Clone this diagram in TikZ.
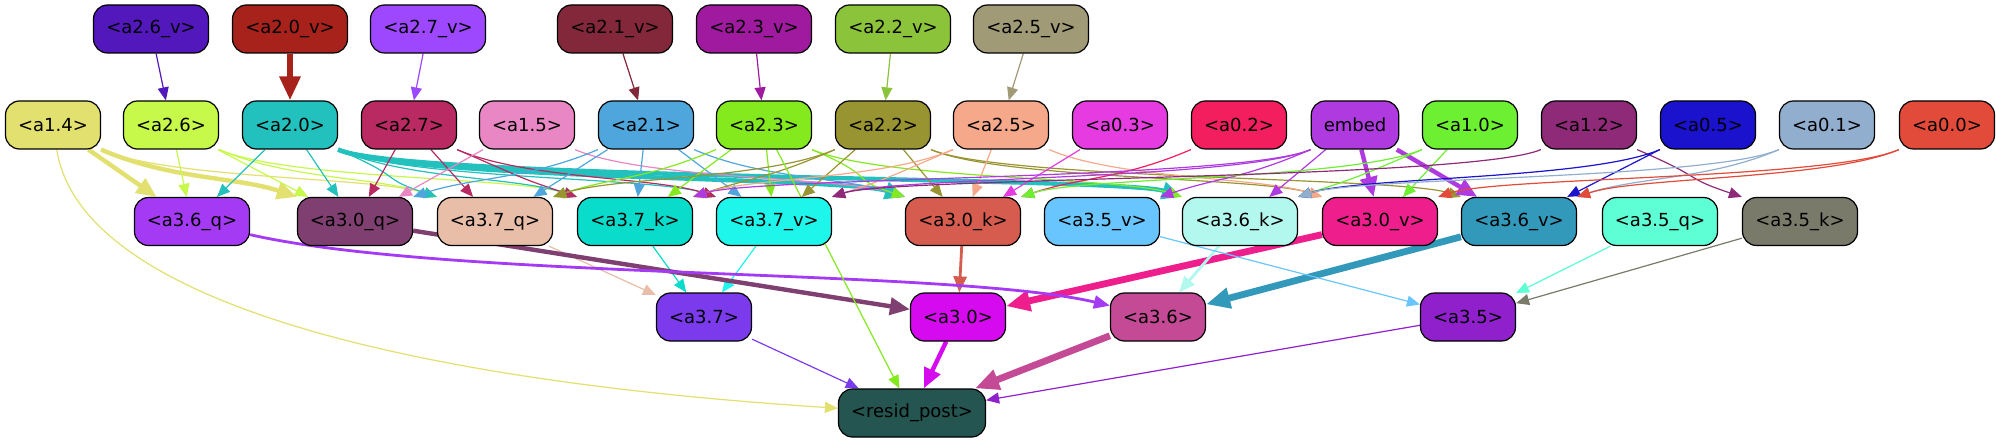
\documentclass[tikz,border=0pt]{standalone}
\usepackage{fontspec}
\setmainfont{DejaVu Sans}
\usetikzlibrary{arrows.meta,backgrounds}

\definecolor{c26v}{HTML}{5218BB}
\definecolor{c20v}{HTML}{A8221C}
\definecolor{c27v}{HTML}{9D48FF}
\definecolor{c21v}{HTML}{83283A}
\definecolor{c23v}{HTML}{A01AA0}
\definecolor{c22v}{HTML}{8BC33A}
\definecolor{c25v}{HTML}{A09A76}
\definecolor{c14}{HTML}{E2E06E}
\definecolor{c26}{HTML}{C7F94A}
\definecolor{c20}{HTML}{22C1BE}
\definecolor{c27}{HTML}{B82A61}
\definecolor{c15}{HTML}{E986C4}
\definecolor{c21}{HTML}{4EA6DC}
\definecolor{c23}{HTML}{84EA1E}
\definecolor{c22}{HTML}{999432}
\definecolor{c25}{HTML}{F5A98A}
\definecolor{c03}{HTML}{E63BE0}
\definecolor{c02}{HTML}{F31E5E}
\definecolor{cemb}{HTML}{AF3AE0}
\definecolor{c10}{HTML}{6EF032}
\definecolor{c12}{HTML}{8F2A78}
\definecolor{c05}{HTML}{1A12CC}
\definecolor{c01}{HTML}{92AECE}
\definecolor{c00}{HTML}{E24A3A}
\definecolor{c36q}{HTML}{A53AF4}
\definecolor{c30q}{HTML}{7F3F70}
\definecolor{c37q}{HTML}{E8BEA8}
\definecolor{c37k}{HTML}{0ADCCC}
\definecolor{c37v}{HTML}{1EF5EB}
\definecolor{c30k}{HTML}{D55C4E}
\definecolor{c35v}{HTML}{69C5FD}
\definecolor{c36k}{HTML}{B2F8EF}
\definecolor{c30v}{HTML}{EE1E8C}
\definecolor{c36v}{HTML}{3399BA}
\definecolor{c35q}{HTML}{5EFFD4}
\definecolor{c35k}{HTML}{7A7A6A}
\definecolor{c37}{HTML}{7B3AEC}
\definecolor{c30}{HTML}{D60AEE}
\definecolor{c36}{HTML}{C54A96}
\definecolor{c35}{HTML}{8F20CC}
\definecolor{cres}{HTML}{245550}

\tikzset{
  box/.style={draw=black, line width=0.6pt, rounded corners=7pt, minimum height=24pt,
    inner sep=0pt, font=\fontsize{9}{11}\selectfont},
  sbox/.style={box, minimum width=47.5pt},
  wbox/.style={box, minimum width=57.5pt},
  e1/.style={line width=0.6pt, -{Triangle[length=6.5pt,width=5.5pt]}},
  e2/.style={line width=1.4pt, -{Triangle[length=8pt,width=6.5pt]}},
  e3/.style={line width=2.2pt, -{Triangle[length=10pt,width=8.5pt]}},
  e4/.style={line width=3.4pt, -{Triangle[length=12pt,width=10pt]}},
  swr/.style={to path={.. controls +(70,30) and +(-60,-20) .. (\tikztotarget) \tikztonodes}},
  swl/.style={to path={.. controls +(-70,30) and +(60,-20) .. (\tikztotarget) \tikztonodes}},
}

\begin{document}
\begin{tikzpicture}[x=0.5pt,y=-0.5pt]
		\node[wbox, fill=c26v] (a26v) at (151,29) {<a2.6\_v>};
		\node[wbox, fill=c20v] (a20v) at (290,29) {<a2.0\_v>};
		\node[wbox, fill=c27v] (a27v) at (428,29) {<a2.7\_v>};
		\node[wbox, fill=c21v] (a21v) at (615,29) {<a2.1\_v>};
		\node[wbox, fill=c23v] (a23v) at (754,29) {<a2.3\_v>};
		\node[wbox, fill=c22v] (a22v) at (893,29) {<a2.2\_v>};
		\node[wbox, fill=c25v] (a25v) at (1031,29) {<a2.5\_v>};
		%
		\node[sbox, fill=c14] (a14) at (53,125) {<a1.4>};
		\node[sbox, fill=c26] (a26) at (171,125) {<a2.6>};
		\node[sbox, fill=c20] (a20) at (290,125) {<a2.0>};
		\node[sbox, fill=c27] (a27) at (409,125) {<a2.7>};
		\node[sbox, fill=c15] (a15) at (527,125) {<a1.5>};
		\node[sbox, fill=c21] (a21) at (646,125) {<a2.1>};
		\node[sbox, fill=c23] (a23) at (764,125) {<a2.3>};
		\node[sbox, fill=c22] (a22) at (883,125) {<a2.2>};
		\node[sbox, fill=c25] (a25) at (1001,125) {<a2.5>};
		\node[sbox, fill=c03] (a03) at (1120,125) {<a0.3>};
		\node[sbox, fill=c02] (a02) at (1239,125) {<a0.2>};
		\node[box, minimum width=43.75pt, fill=cemb] (embed) at (1355,125) {embed};
		\node[sbox, fill=c10] (a10) at (1470,125) {<a1.0>};
		\node[sbox, fill=c12] (a12) at (1589,125) {<a1.2>};
		\node[sbox, fill=c05] (a05) at (1708,125) {<a0.5>};
		\node[sbox, fill=c01] (a01) at (1827,125) {<a0.1>};
		\node[sbox, fill=c00] (a00) at (1947,125) {<a0.0>};
		%
		\node[wbox, fill=c36q] (a36q) at (192,221.5) {<a3.6\_q>};
		\node[wbox, fill=c30q] (a30q) at (355,221.5) {<a3.0\_q>};
		\node[wbox, fill=c37q] (a37q) at (495,221.5) {<a3.7\_q>};
		\node[wbox, fill=c37k] (a37k) at (635,221.5) {<a3.7\_k>};
		\node[wbox, fill=c37v] (a37v) at (774,221.5) {<a3.7\_v>};
		\node[wbox, fill=c30k] (a30k) at (963,221.5) {<a3.0\_k>};
		\node[wbox, fill=c35v] (a35v) at (1102,221.5) {<a3.5\_v>};
		\node[wbox, fill=c36k] (a36k) at (1240,221.5) {<a3.6\_k>};
		\node[wbox, fill=c30v] (a30v) at (1380,221.5) {<a3.0\_v>};
		\node[wbox, fill=c36v] (a36v) at (1519,221.5) {<a3.6\_v>};
		\node[wbox, fill=c35q] (a35q) at (1660,221.5) {<a3.5\_q>};
		\node[wbox, fill=c35k] (a35k) at (1800,221.5) {<a3.5\_k>};
		%
		\node[sbox, fill=c37] (a37) at (704,317) {<a3.7>};
		\node[sbox, fill=c30] (a30) at (958,317) {<a3.0>};
		\node[sbox, fill=c36] (a36) at (1158,317) {<a3.6>};
		\node[sbox, fill=c35] (a35) at (1468,317) {<a3.5>};
		%
		\node[box, minimum width=73.5pt, fill=cres] (resid) at (912,413) {<resid\_post>};
		%
		\begin{pgfonlayer}{background}
		\path[use as bounding box, fill=white] (0,0) rectangle (1996,443);
		%
		\path
		(a26v) edge[e1, c26v] (a26)
		(a20v) edge[e4, c20v] (a20)
		(a27v) edge[e1, c27v] (a27)
		(a21v) edge[e1, c21v] (a21)
		(a23v) edge[e1, c23v] (a23)
		(a22v) edge[e1, c22v] (a22)
		(a25v) edge[e1, c25v] (a25);
		%
		\path
		(a14) edge[e3, c14] (a36q)
		(a14.south east) edge[e3, c14, swr] (a30q.north west)
		(a14.south east) edge[e1, c14, swr] (a37q.north west)
		(a26) edge[e1, c26] (a36q)
		(a26) edge[e1, c26] (a30q)
		(a26.south east) edge[e1, c26, swr] (a37q.north west)
		(a26.south east) edge[e1, c26, swr] (a37k.north west)
		(a20) edge[e1, c20] (a36q)
		(a20) edge[e1, c20] (a30q)
		(a20.south east) edge[e1, c20, swr] (a37q.north west)
		(a20.south east) edge[e1, c20, swr] (a37k.north west)
		(a20.south east) edge[e1, c20, swr] (a37v.north west)
		(a20.south east) edge[e3, c20, swr] (a30k.north west)
		(a20.south east) edge[e3, c20, swr] (a36k.north west)
		(a27) edge[e1, c27] (a30q)
		(a27) edge[e1, c27] (a37q)
		(a27.south east) edge[e1, c27, swr] (a37k.north west)
		(a27.south east) edge[e1, c27, swr] (a37v.north west)
		(a15) edge[e1, c15] (a30q)
		(a15.south east) edge[e1, c15, swr] (a30k.north west)
		(a21.south west) edge[e1, c21, swl] (a30q.north east)
		(a21) edge[e1, c21] (a37q)
		(a21) edge[e1, c21] (a37k)
		(a21) edge[e1, c21] (a37v)
		(a21.south east) edge[e1, c21, swr] (a30k.north west)
		(a23.south west) edge[e1, c23, swl] (a37q.north east)
		(a23) edge[e1, c23] (a37k)
		(a23) edge[e1, c23] (a37v)
		(a23.south east) edge[e1, c23, swr] (a30k.north west)
		(a23.south east) edge[e1, c23, swr] (a36k.north west)
		(a22.south west) edge[e1, c22, swl] (a37q.north east)
		(a22.south west) edge[e1, c22, swl] (a37k.north east)
		(a22) edge[e1, c22] (a37v)
		(a22) edge[e1, c22] (a30k)
		(a22.south east) edge[e1, c22, swr] (a30v.north west)
		(a22.south east) edge[e1, c22, swr] (a36v.north west)
		(a25.south west) edge[e1, c25, swl] (a37k.north east)
		(a25.south west) edge[e1, c25, swl] (a37v.north east)
		(a25) edge[e1, c25] (a30k)
		(a25.south east) edge[e1, c25, swr] (a30v.north west)
		(a03) edge[e1, c03] (a30k)
		(a02.south west) edge[e1, c02, swl] (a30k.north east)
		(embed.south west) edge[e1, cemb, swl] (a37k.north east)
		(embed.south west) edge[e1, cemb, swl] (a37v.north east)
		(embed.south west) edge[e1, cemb, swl] (a35v.north east)
		(embed) edge[e1, cemb] (a36k)
		(embed) edge[e3, cemb] (a30v)
		(embed) edge[e3, cemb] (a36v)
		(a10.south west) edge[e1, c10, swl] (a36k.north east)
		(a10) edge[e1, c10] (a30v)
		(a10.south west) edge[e1, c10, swl] (a30k.north east)
		(a12.south west) edge[e1, c12, swl] (a37v.north east)
		(a12.south east) edge[e1, c12, swr] (a35k.north west)
		(a05.south west) edge[e1, c05, swl] (a36k.north east)
		(a05) edge[e1, c05] (a36v)
		(a01.south west) edge[e1, c01, swl] (a36k.north east)
		(a01.south west) edge[e1, c01, swl] (a36v.north east)
		(a00.south west) edge[e1, c00, swl] (a30v.north east)
		(a00.south west) edge[e1, c00, swl] (a36v.north east);
		%
		\path
		(a37q) edge[e1, c37q] (a37)
		(a37k) edge[e1, c37k] (a37)
		(a37v) edge[e1, c37v] (a37)
		(a30q) edge[e3, c30q] (a30)
		(a30k) edge[e2, c30k] (a30)
		(a30v) edge[e4, c30v] (a30)
		(a36k) edge[e2, c36k] (a36)
		(a36v) edge[e4, c36v] (a36)
		(a35v) edge[e1, c35v] (a35)
		(a35q) edge[e1, c35q] (a35)
		(a35k) edge[e1, c35k] (a35);
		\draw[e2, c36q] (a36q) .. controls (450,280) and (950,268) .. (a36);
		%
		\path
		(a37) edge[e1, c37] (resid)
		(a30) edge[e3, c30] (resid)
		(a36) edge[e4, c36] (resid)
		(a35) edge[e1, c35] (resid)
		(a23) edge[e1, c23] (resid);
		\draw[e1, c14] (a14) .. controls (80,300) and (400,380) .. (resid);
		\end{pgfonlayer}
\end{tikzpicture}
\end{document}
